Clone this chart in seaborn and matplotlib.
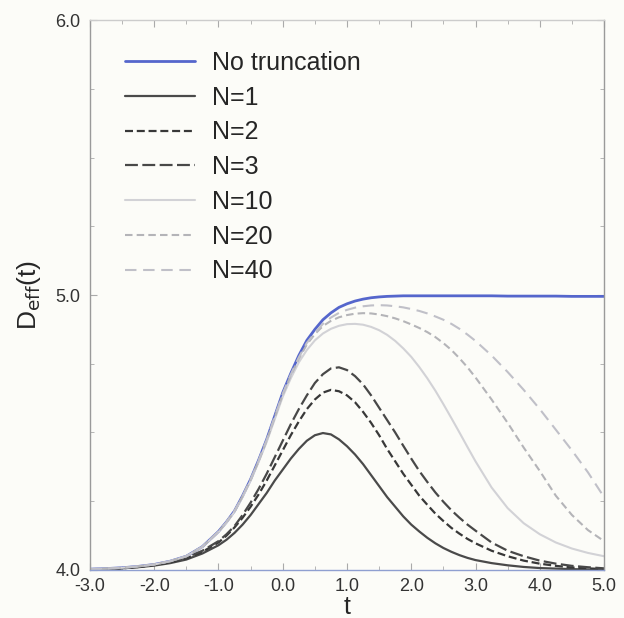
import matplotlib
matplotlib.use("Agg")
import matplotlib.pyplot as plt
import seaborn as sns
from matplotlib.ticker import MultipleLocator, FormatStrFormatter

# sample points in t (finer where the curves bend)
t = [-3.0, -2.75, -2.5, -2.25, -2.0, -1.75, -1.5, -1.25,
     -1.0, -0.875, -0.75, -0.625, -0.5, -0.375, -0.25, -0.125,
     0.0, 0.125, 0.25, 0.375, 0.5, 0.625, 0.75, 0.875,
     1.0, 1.125, 1.25, 1.375, 1.5, 1.625, 1.75, 1.875,
     2.0, 2.125, 2.25, 2.375, 2.5, 2.625, 2.75, 2.875,
     3.0, 3.25, 3.5, 3.75, 4.0, 4.25, 4.5, 4.75, 5.0]

no_trunc = [4.003, 4.005, 4.008, 4.013, 4.020, 4.032, 4.050, 4.085,
            4.140, 4.175, 4.215, 4.270, 4.330, 4.400, 4.475, 4.560,
            4.645, 4.715, 4.780, 4.835, 4.875, 4.910, 4.935, 4.955,
            4.968, 4.978, 4.985, 4.990, 4.993, 4.995, 4.996, 4.997,
            4.997, 4.997, 4.997, 4.997, 4.997, 4.997, 4.997, 4.997,
            4.997, 4.997, 4.996, 4.996, 4.996, 4.996, 4.995, 4.995, 4.995]
n1 = [4.002, 4.003, 4.006, 4.010, 4.016, 4.025, 4.038, 4.060,
      4.090, 4.110, 4.135, 4.165, 4.200, 4.240, 4.280, 4.325,
      4.365, 4.405, 4.440, 4.470, 4.490, 4.498, 4.493, 4.475,
      4.450, 4.420, 4.385, 4.345, 4.305, 4.265, 4.230, 4.195,
      4.165, 4.140, 4.117, 4.097, 4.080, 4.066, 4.054, 4.044,
      4.036, 4.025, 4.017, 4.011, 4.007, 4.005, 4.003, 4.002, 4.001]
n2 = [4.002, 4.003, 4.006, 4.011, 4.018, 4.028, 4.042, 4.066,
      4.100, 4.125, 4.155, 4.190, 4.230, 4.275, 4.325, 4.380,
      4.435, 4.490, 4.540, 4.585, 4.620, 4.645, 4.655, 4.650,
      4.635, 4.610, 4.575, 4.535, 4.490, 4.440, 4.395, 4.350,
      4.310, 4.270, 4.237, 4.205, 4.178, 4.153, 4.132, 4.113,
      4.097, 4.070, 4.050, 4.034, 4.023, 4.015, 4.009, 4.006, 4.003]
n3 = [4.002, 4.003, 4.006, 4.011, 4.019, 4.030, 4.045, 4.070,
      4.105, 4.130, 4.160, 4.200, 4.245, 4.295, 4.350, 4.410,
      4.470, 4.530, 4.585, 4.635, 4.680, 4.712, 4.733, 4.737,
      4.727, 4.705, 4.675, 4.635, 4.590, 4.545, 4.500, 4.452,
      4.405, 4.360, 4.320, 4.282, 4.248, 4.217, 4.190, 4.165,
      4.143, 4.100, 4.070, 4.050, 4.034, 4.023, 4.015, 4.010, 4.006]
n10 = [4.003, 4.005, 4.008, 4.013, 4.020, 4.032, 4.050, 4.084,
       4.138, 4.172, 4.212, 4.265, 4.325, 4.393, 4.466, 4.548,
       4.630, 4.697, 4.755, 4.800, 4.835, 4.860, 4.877, 4.888,
       4.894, 4.895, 4.892, 4.884, 4.872, 4.855, 4.833, 4.806,
       4.775, 4.738, 4.697, 4.652, 4.603, 4.552, 4.500, 4.447,
       4.395, 4.300, 4.225, 4.170, 4.130, 4.100, 4.078, 4.062, 4.050]
n20 = [4.003, 4.005, 4.008, 4.013, 4.020, 4.032, 4.050, 4.085,
       4.139, 4.174, 4.214, 4.268, 4.328, 4.397, 4.471, 4.555,
       4.638, 4.707, 4.768, 4.820, 4.858, 4.887, 4.906, 4.919,
       4.927, 4.932, 4.934, 4.933, 4.929, 4.923, 4.915, 4.905,
       4.893, 4.880, 4.865, 4.847, 4.825, 4.800, 4.770, 4.737,
       4.700, 4.620, 4.535, 4.445, 4.360, 4.270, 4.200, 4.145, 4.105]
n40 = [4.003, 4.005, 4.008, 4.013, 4.020, 4.032, 4.050, 4.085,
       4.140, 4.175, 4.215, 4.269, 4.329, 4.398, 4.473, 4.557,
       4.641, 4.711, 4.773, 4.826, 4.862, 4.895, 4.918, 4.935,
       4.946, 4.954, 4.959, 4.962, 4.963, 4.962, 4.959, 4.955,
       4.949, 4.942, 4.933, 4.922, 4.910, 4.895, 4.877, 4.856,
       4.833, 4.780, 4.720, 4.655, 4.585, 4.510, 4.435, 4.355, 4.265]

labels = ["No truncation", "N=1", "N=2", "N=3", "N=10", "N=20", "N=40"]
series = [no_trunc, n1, n2, n3, n10, n20, n40]
colors = ["#5566cc", "#4a4a4a", "#383838", "#484848", "#d2d2d6", "#b4b4b8", "#c0c0c8"]
styles = ["-", "-", (0, (3.6, 1.7)), (0, (5.8, 2.0)), "-", (0, (3.6, 2.0)), (0, (5.5, 3.2))]
widths = [2.0, 1.6, 1.6, 1.6, 1.5, 1.5, 1.5]

sns.set_style("ticks")
plt.rcParams['font.family'] = ['Liberation Sans', 'DejaVu Sans']

bg = "#fcfcf8"
fig = plt.figure(figsize=(6.24, 6.18), dpi=100, facecolor=bg)
ax = fig.add_axes([0.1442, 0.0777, 0.8238, 0.8899])
ax.set_facecolor(bg)

for lab, y, c, ls, lw in zip(labels, series, colors, styles, widths):
    sns.lineplot(x=t, y=y, ax=ax, color=c, linestyle=ls, linewidth=lw, label=lab)

ax.set_xlim(-3, 5)
ax.set_ylim(4, 6)
ax.xaxis.set_major_locator(MultipleLocator(1.0))
ax.xaxis.set_minor_locator(MultipleLocator(0.5))
ax.yaxis.set_major_locator(MultipleLocator(1.0))
ax.yaxis.set_minor_locator(MultipleLocator(0.25))
ax.xaxis.set_major_formatter(FormatStrFormatter("%.1f"))
ax.yaxis.set_major_formatter(FormatStrFormatter("%.1f"))
ax.tick_params(which="both", direction="in", top=True, right=True, colors="#aaaaaa",
               labelcolor="#333333", labelsize=13)
ax.tick_params(which="major", length=5)
ax.tick_params(which="minor", length=3)
ax.tick_params(axis="x", pad=6)
ax.tick_params(axis="y", pad=7)
for s in ax.spines.values():
    s.set_color("#9a9a9a")
    s.set_linewidth(1.0)
ax.spines["top"].set_color("#cccccc")
ax.spines["bottom"].set_color("#8f9fd0")

ax.set_xlabel("t", fontsize=18, labelpad=0)
ax.set_ylabel(r"D$_{\mathrm{eff}}$(t)", fontsize=19, labelpad=9)

ax.legend(loc="upper left", frameon=False, fontsize=18, handlelength=2.8,
          handletextpad=0.68, labelspacing=0.43, borderaxespad=0.0,
          bbox_to_anchor=(0.048, 0.962))

fig.savefig("out.png", dpi=100, facecolor=bg)
